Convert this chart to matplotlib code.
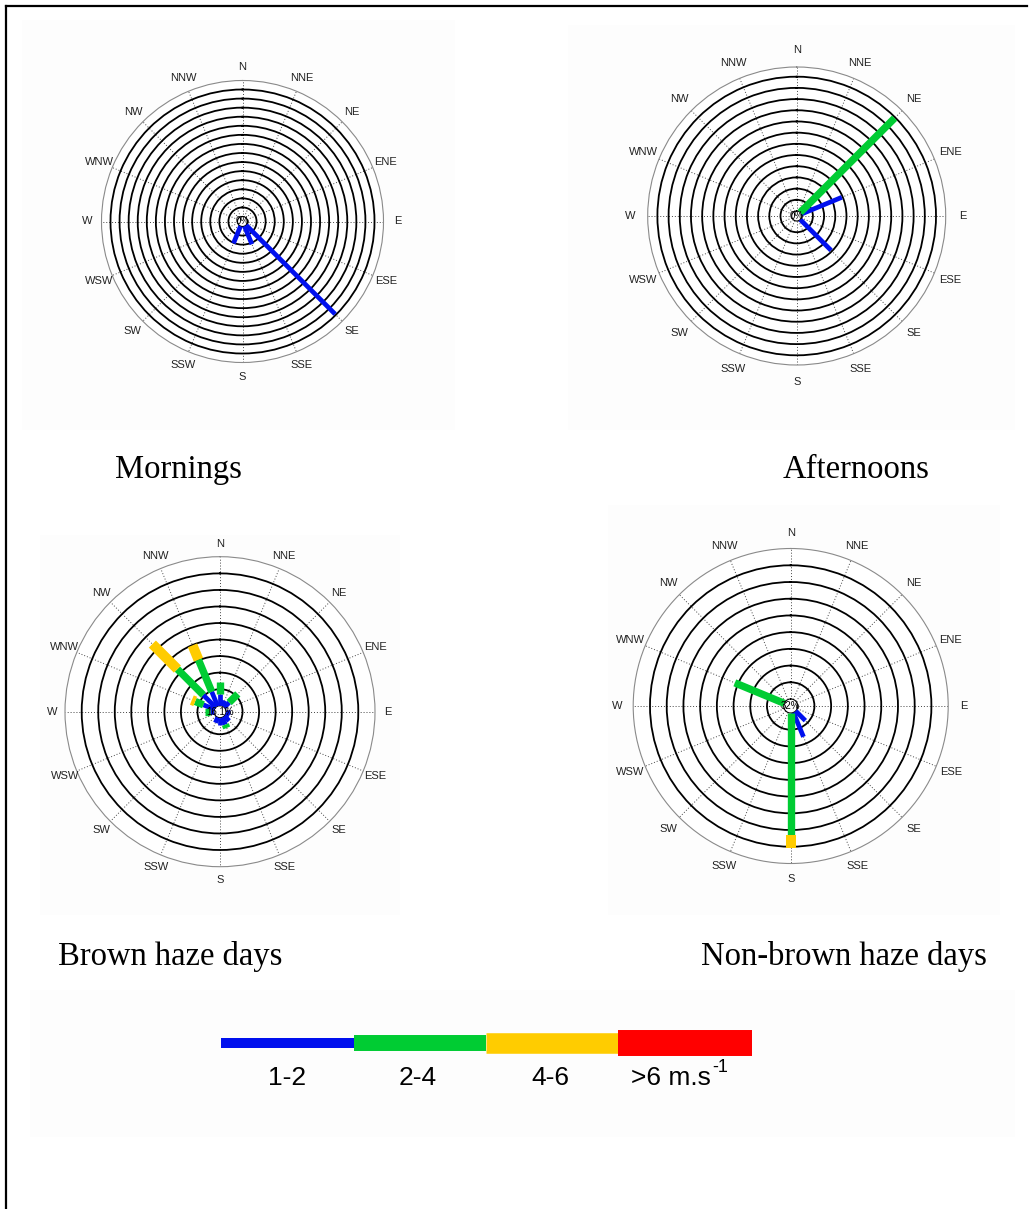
import matplotlib.pyplot as plt
import numpy as np

W_PX, H_PX = 1030, 1209

directions = ['N', 'NNE', 'NE', 'ENE', 'E', 'ESE', 'SE', 'SSE',
              'S', 'SSW', 'SW', 'WSW', 'W', 'WNW', 'NW', 'NNW']
speed_classes = ['1-2', '2-4', '4-6', '>6 m.s']
class_colors = ['#0010ee', '#00cc33', '#ffcc00', '#ff0000']
class_widths = [3.4, 5.3, 7.2, 9.0]

# frequency (%) per direction, one list per speed class
#                   N    NNE  NE    ENE   E    ESE  SE    SSE   S     SSW   SW WSW W    WNW   NW    NNW
morn_12 =         [0,   0,   0,    0,    0,   0,   76.4, 11.9, 0,    11.3, 0, 0,  0,   0,    0,    0]
morn_24 =         [0] * 16
aft_12 =          [0,   0,   0,    19.6, 0,   0,   19.5, 0,    0,    0,    0, 0,  0,   0,    0,    0]
aft_24 =          [0,   0,   59.6, 0,    0,   0,   0,    0,    0,    0,    0, 0,  0,   0,    0,    0]
brown_12 =        [3.6, 1.8, 2.1,  0,    1.2, 1.2, 2.1,  2.4,  2.2,  1.8,  0, 0,  1.2, 3.6,  5.3,  4.7]
brown_24 =        [3.7, 0,   3.7,  0,    0,   0,   0,    1.1,  0,    0,    0, 0,  1.5, 2.7,  11.1, 10.5]
brown_46 =        [0,   0,   0,    0,    0,   0,   0,    0,    0,    0,    0, 0,  0,   1.1,  10.7, 4.7]
nonbrown_12 =     [0,   0,   0,    0,    0,   0,   4.1,  7.9,  0,    0,    0, 0,  0,   0,    0,    0]
nonbrown_24 =     [0,   0,   0,    0,    0,   0,   0,    0,    36.5, 0,    0, 0,  0,   16.0, 0,    0]
nonbrown_46 =     [0,   0,   0,    0,    0,   0,   0,    0,    4.0,  0,    0, 0,  0,   0,    0,    0]

calm_labels = ['0%', '0%', '16.1%', '32%']
titles = ['Mornings', 'Afternoons', 'Brown haze days', 'Non-brown haze days']
ring_step = [5.5, 5, 5, 5]
ring_count = [14, 12, 8, 8]

panels = [
    # centre x, centre y, outer radius, centre-circle radius, last ring radius, label offset (px)
    dict(cx=242.5, cy=221.5, outer=141, r0=5, last=132, lab=14, data=[morn_12, morn_24]),
    dict(cx=796.7, cy=216.0, outer=149, r0=5, last=139.3, lab=17, data=[aft_12, aft_24]),
    dict(cx=220.0, cy=711.7, outer=155, r0=6, last=138.3, lab=13, data=[brown_12, brown_24, brown_46]),
    dict(cx=790.7, cy=706.0, outer=157.5, r0=7, last=140.7, lab=16,
         data=[nonbrown_12, nonbrown_24, nonbrown_46]),
]
title_pos = [(178, 470), (856, 470), (170, 957), (844, 957)]
panel_bg = [(22, 20, 455, 430), (568, 25, 1015, 430), (40, 535, 400, 915), (608, 505, 1000, 915)]

fig = plt.figure(figsize=(W_PX / 100, H_PX / 100), dpi=100)
bg = fig.add_axes([0, 0, 1, 1], zorder=0)
bg.set_xlim(0, W_PX)
bg.set_ylim(H_PX, 0)
bg.axis('off')

# faint grey boxes of the pasted figures
for x0, y0, x1, y1 in panel_bg + [(30, 990, 1015, 1137)]:
    bg.add_patch(plt.Rectangle((x0, y0), x1 - x0, y1 - y0, color='#fdfdfd', lw=0))

# page frame
bg.plot([6, 6], [H_PX, 6], color='black', lw=1.6)
bg.plot([6, 1027], [6, 6], color='black', lw=1.6)

theta_dir = np.deg2rad(np.arange(16) * 22.5)

for i, p in enumerate(panels):
    ppp = (p['last'] - p['r0']) / ring_count[i] / ring_step[i]   # pixels per percent
    rmax = (p['outer'] - p['r0']) / ppp
    R = p['outer']
    ax = fig.add_axes([(p['cx'] - R) / W_PX, 1 - (p['cy'] + R) / H_PX, 2 * R / W_PX, 2 * R / H_PX],
                      projection='polar', zorder=2)
    ax.set_theta_zero_location('N')
    ax.set_theta_direction(-1)
    ax.set_rorigin(-p['r0'] / ppp)
    ax.set_rlim(0, rmax)
    ax.set_facecolor('white')
    ax.set_yticks([ring_step[i] * (k + 1) for k in range(ring_count[i])])
    ax.set_yticklabels([])
    ax.set_xticks(theta_dir)
    ax.set_xticklabels([])
    ax.yaxis.grid(True, color='black', lw=1.3, ls='-')
    ax.xaxis.grid(True, color='#444444', lw=0.7, ls=(0, (1, 2)))
    ax.spines['polar'].set_color('#8a8a8a')
    ax.spines['polar'].set_linewidth(0.8)
    ax.spines['inner'].set_color('black')
    ax.spines['inner'].set_linewidth(0.8)

    base = np.zeros(16)
    for c, vals in enumerate(p['data']):
        vals = np.asarray(vals, dtype=float)
        for d in range(16):
            if vals[d] > 0:
                ax.plot([theta_dir[d], theta_dir[d]], [base[d], base[d] + vals[d]],
                        color=class_colors[c], lw=class_widths[c], solid_capstyle='butt', zorder=3)
        base += vals

    rl = rmax + p['lab'] / ppp
    for d, name in enumerate(directions):
        ax.text(theta_dir[d], rl, name, ha='center', va='center', fontsize=8,
                family='Liberation Sans', color='#222222', clip_on=False)
    ax.text(0, -p['r0'] / ppp, calm_labels[i], ha='center', va='center', fontsize=7,
            family='Liberation Sans', color='black', zorder=4)

for (tx, ty), t in zip(title_pos, titles):
    bg.text(tx, ty, t, ha='center', va='center', fontsize=23.5, family='Liberation Serif')

# speed legend
leg_x = [221, 354, 486, 618, 752]
leg_lw = [7.2, 11.5, 14.8, 18.7]
for c in range(4):
    bg.plot([leg_x[c], leg_x[c + 1]], [1043, 1043], color=class_colors[c], lw=leg_lw[c],
            solid_capstyle='butt')
label_x = [287, 418, 550, 631]
for c in range(4):
    bg.text(label_x[c], 1078, speed_classes[c], ha='center' if c < 3 else 'left', va='center',
            fontsize=19, family='Liberation Sans')
bg.text(712, 1067, '-1', ha='left', va='center', fontsize=13, family='Liberation Sans')

fig.savefig('out.png', dpi=100)
